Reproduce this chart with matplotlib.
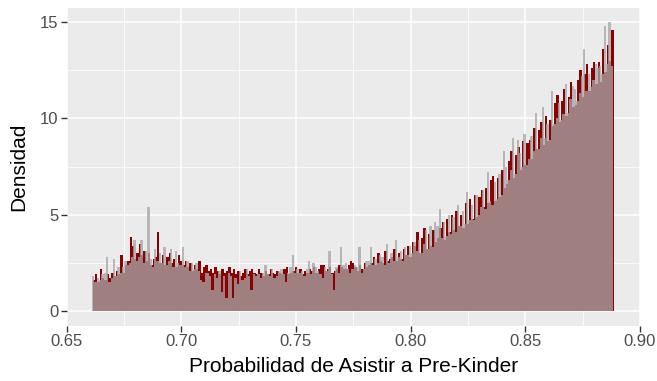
import numpy as np
import matplotlib
matplotlib.use("Agg")
import matplotlib.pyplot as plt
from matplotlib.ticker import MultipleLocator, FormatStrFormatter

plt.rcParams["font.family"] = ["Liberation Sans", "DejaVu Sans"]

# Histogram bins (density per bin of width 0.001)
bin_width = 0.001
red_start = 0.6615
grey_start = 0.6612

red_density = [
    1.6, 1.9, 1.5, 2.2, 1.7, 1.6, 1.9, 1.7, 2.0, 1.8,
    2.1, 1.9, 2.9, 2.0, 2.4, 2.6, 3.85, 3.4, 2.7, 3.0,
    3.5, 2.9, 3.1, 2.6, 3.0, 2.4, 2.7, 2.8, 4.1, 2.5,
    2.9, 2.4, 2.8, 3.0, 2.5, 2.7, 2.3, 2.9, 2.6, 2.4,
    2.6, 2.3, 2.5, 2.1, 2.4, 2.2, 2.6, 2.0, 2.3, 2.4,
    2.1, 2.2, 2.0, 2.3, 2.1, 1.9, 2.2, 2.0, 2.1, 2.3,
    2.0, 2.2, 1.9, 2.1, 1.8, 2.0, 2.2, 1.9, 2.1, 2.2,
    2.0, 1.9, 2.2, 2.0, 1.8, 2.1, 1.9, 2.2, 2.0, 1.9,
    2.1, 2.0, 1.9, 2.2, 2.3, 1.9, 2.0, 2.1, 2.3, 2.0,
    2.2, 1.9, 2.1, 2.0, 2.2, 2.1, 2.3, 2.0, 2.2, 2.4,
    2.4, 2.1, 2.2, 2.3, 2.0, 2.1, 2.2, 2.4, 2.3, 2.2,
    2.2, 2.4, 2.6, 2.5, 2.3, 2.1, 2.4, 2.2, 2.5, 2.3,
    2.4, 2.5, 2.8, 2.4, 3.0, 2.6, 2.5, 3.1, 2.6, 2.7,
    2.8, 3.2, 2.6, 3.0, 2.7, 3.2, 2.9, 3.4, 2.8, 3.6,
    3.4, 4.1, 3.0, 3.8, 4.3, 3.2, 4.0, 3.4, 4.2, 3.6,
    3.8, 4.3, 4.6, 3.7, 4.8, 4.1, 5.0, 4.2, 5.2, 4.4,
    5.0, 4.3, 5.6, 4.5, 5.8, 4.8, 6.0, 4.9, 5.9, 6.3,
    5.4, 6.4, 5.6, 6.8, 7.0, 5.7, 6.9, 5.9, 7.3, 6.4,
    6.6, 7.8, 8.3, 6.9, 8.1, 8.5, 7.3, 8.8, 7.6, 8.7,
    8.9, 7.9, 9.5, 8.4, 9.4, 9.8, 8.6, 10.1, 8.8, 9.9,
    9.6, 10.8, 11.2, 9.8, 10.9, 11.5, 10.1, 11.1, 11.9, 10.6,
    10.7, 12.0, 12.5, 11.1, 12.3, 12.8, 11.4, 12.6, 12.9, 11.8,
    12.9, 11.9, 13.6, 12.4, 13.8, 13.0, 14.6,
]

grey_density = [
    1.8, 1.5, 1.7, 1.6, 1.9, 2.0, 2.8, 1.5, 1.7, 2.7,
    1.8, 2.3, 2.0, 2.3, 2.6, 2.4, 2.5, 2.8, 3.7, 2.6,
    2.8, 3.7, 2.5, 3.1, 5.4, 2.7, 2.3, 3.2, 2.6, 3.0,
    2.5, 3.3, 2.4, 2.6, 3.2, 2.3, 3.1, 2.5, 2.4, 3.3,
    2.3, 2.6, 2.1, 2.5, 2.2, 2.5, 2.1, 1.6, 1.5, 2.0,
    2.0, 1.8, 1.1, 1.9, 1.7, 2.1, 1.0, 1.8, 0.7, 2.0,
    1.8, 0.7, 1.7, 1.4, 2.1, 1.6, 1.7, 2.2, 1.8, 1.1,
    1.9, 1.8, 1.9, 1.7, 2.0, 2.4, 1.9, 1.8, 2.2, 1.7,
    1.8, 2.1, 2.2, 1.9, 1.5, 2.0, 2.3, 2.9, 2.0, 2.2,
    2.0, 2.1, 1.8, 2.2, 2.6, 1.9, 2.5, 2.3, 2.1, 1.9,
    1.7, 2.3, 2.1, 3.1, 1.9, 1.1, 2.3, 2.0, 3.3, 2.4,
    2.5, 2.2, 2.0, 2.2, 2.4, 2.3, 3.3, 2.0, 2.2, 2.6,
    2.6, 3.3, 2.4, 2.7, 2.5, 2.9, 2.8, 2.4, 3.5, 2.5,
    3.0, 2.6, 3.7, 2.8, 3.1, 2.6, 3.3, 2.9, 3.4, 3.0,
    3.6, 3.1, 3.7, 3.0, 3.5, 4.2, 3.2, 4.4, 3.3, 4.6,
    4.4, 5.3, 3.8, 4.6, 3.9, 5.0, 4.0, 4.9, 4.1, 5.5,
    4.4, 5.2, 4.5, 6.2, 4.7, 5.5, 4.7, 6.0, 5.0, 5.4,
    6.3, 5.3, 7.2, 5.7, 5.5, 6.7, 5.8, 7.1, 6.0, 8.3,
    7.5, 6.8, 7.3, 9.0, 7.1, 8.9, 8.2, 7.5, 9.2, 7.6,
    7.9, 9.1, 8.3, 10.3, 8.4, 9.0, 10.6, 9.0, 9.7, 8.9,
    11.4, 9.7, 10.0, 10.8, 9.9, 10.2, 11.8, 10.3, 11.0, 11.7,
    11.5, 10.9, 11.3, 12.2, 13.6, 11.4, 12.3, 11.6, 12.0, 12.8,
    12.6, 12.7, 12.3, 14.8, 12.8, 15.0, 12.7,
]

x_ticks = [0.65, 0.70, 0.75, 0.80, 0.85, 0.90]
y_ticks = [0, 5, 10, 15]

red_left = red_start + bin_width * np.arange(len(red_density))
grey_left = grey_start + bin_width * np.arange(len(grey_density))

fig = plt.figure(figsize=(6.57, 3.81), dpi=100)
ax = fig.add_axes([66.5 / 657, 1 - 325.5 / 381, (640 - 66.5) / 657, (325.5 - 7.5) / 381])

panel_bg = "#EBEBEB"
ax.set_facecolor(panel_bg)
fig.patch.set_facecolor("white")

# grid (ggplot2 grey theme)
ax.xaxis.set_minor_locator(MultipleLocator(0.025))
ax.yaxis.set_minor_locator(MultipleLocator(2.5))
ax.grid(which="major", color="white", linewidth=1.1)
ax.grid(which="minor", color="white", linewidth=0.55)
ax.set_axisbelow(True)

ax.bar(red_left, red_density, width=bin_width, align="edge",
       color="#8B0000", linewidth=0, zorder=2)
ax.bar(grey_left, grey_density, width=bin_width, align="edge",
       color="#A6A6A6", alpha=0.77, linewidth=0, zorder=3)

ax.set_xlim(0.65, 0.90)
ax.set_ylim(-0.75, 15.75)
ax.set_xticks(x_ticks)
ax.set_yticks(y_ticks)
ax.xaxis.set_major_formatter(FormatStrFormatter("%.2f"))

for s in ax.spines.values():
    s.set_visible(False)

ax.tick_params(which="major", length=4, width=1, color="#333333",
               labelcolor="#4D4D4D", labelsize=12, pad=2)
ax.tick_params(which="minor", length=0)

ax.set_xlabel("Probabilidad de Asistir a Pre-Kinder", fontsize=15,
              color="black", labelpad=6)
ax.set_ylabel("Densidad", fontsize=15, color="black", labelpad=8)

fig.savefig("out.png", dpi=100)
